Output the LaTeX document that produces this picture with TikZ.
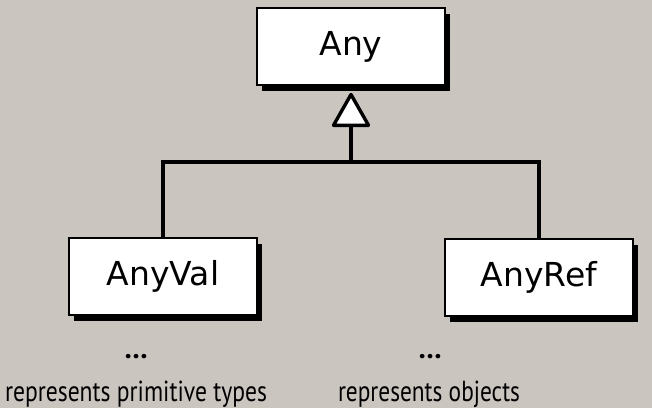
\documentclass[tikz,border=0pt]{standalone}
\usepackage{fontspec}
\setmainfont{DejaVu Sans}
\newfontfamily\notefont{PT Sans}
\usetikzlibrary{arrows.meta,shadows}
\definecolor{bgc}{RGB}{203,197,192}
\tikzset{
  cls/.style={draw=black, line width=1.6pt, fill=white, minimum width=188pt,
    minimum height=77pt, inner sep=0pt, font=\fontsize{33}{36}\selectfont,
    drop shadow={shadow xshift=5pt, shadow yshift=-6pt, fill=black, opacity=1}},
  link/.style={line width=3.2pt, line cap=butt},
  note/.style={inner sep=0pt, font=\notefont\fontsize{29}{31}\selectfont},
}
\begin{document}
\begin{tikzpicture}[x=1pt, y=-1pt]
  \fill[bgc] (0,0) rectangle (652,408);
  \useasboundingbox (0,0) rectangle (652,408);
  % class boxes
  \node[cls] (any) at (351,46.5) {Any};
  \node[cls] (val) at (163,276.5) {AnyVal};
  \node[cls] (ref) at (539,277.5) {AnyRef};
  % inheritance connectors
  \coordinate (j) at (351,162);
  \draw[link] (val.north) |- (j) -| (ref.north);
  \draw[link, -{Triangle[length=36pt, width=40pt, fill=white, line width=3.4pt, round=false]}]
    (j) -- ([yshift=-7pt]any.south);
  % notes under the subclasses
  \node[note, anchor=base] (dv) at (136,358) {\textbf{…}};
  \node[note, anchor=base] (tv) at (136,401) {\resizebox{262pt}{\height}{represents primitive types}};
  \node[note, anchor=base] (dr) at (430,358) {\textbf{…}};
  \node[note, anchor=base] (tr) at (429,401) {\resizebox{182pt}{\height}{represents objects}};
\end{tikzpicture}
\end{document}
